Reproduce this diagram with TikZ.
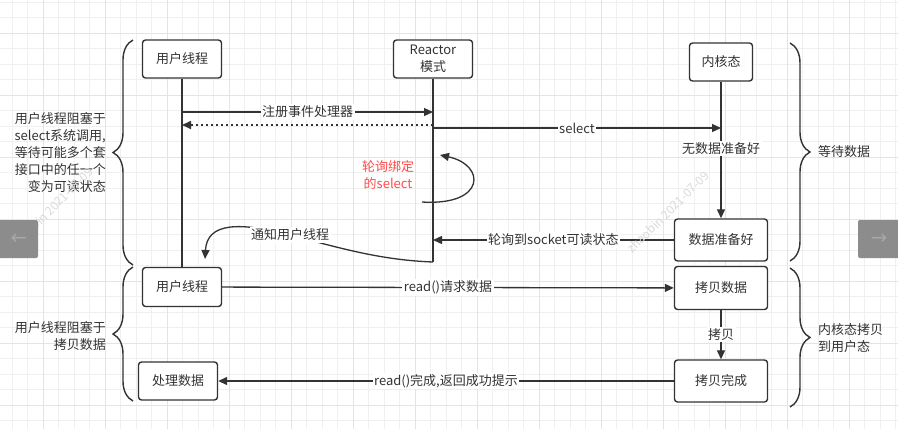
\documentclass[tikz,border=0pt]{standalone}
\usepackage{fontspec}
\setmainfont{Noto Sans CJK SC}
\newfontfamily\symfont{DejaVu Sans}
\usetikzlibrary{arrows.meta,decorations.pathreplacing}
\definecolor{ink}{HTML}{333333}
\definecolor{gridminor}{HTML}{F0F0F0}
\definecolor{gridmajor}{HTML}{E4E4E4}
\definecolor{pollred}{HTML}{FF4B4B}
\definecolor{navgray}{HTML}{8C8C8C}
\definecolor{navglyph}{HTML}{A6A6A6}
\definecolor{stamp}{HTML}{DADADA}
\tikzset{
  lane/.style={draw=ink, line width=1.4pt, rounded corners=3pt, fill=white, text=ink,
    minimum width=79pt, minimum height=38pt, inner sep=2pt, align=center,
    font=\fontsize{13}{17}\selectfont},
  kbox/.style={lane, minimum width=93pt, minimum height=42pt},
  wire/.style={draw=ink, line width=1.3pt},
  flow/.style={wire, -{Triangle[length=9pt,width=8pt]}},
  tag/.style={fill=white, text=ink, inner sep=1.5pt, font=\fontsize{13}{17}\selectfont},
  curly/.style={draw=ink, line width=1.4pt, decorate, decoration={brace, amplitude=20pt}},
  note/.style={text=ink, inner sep=0pt, font=\fontsize{13}{17}\selectfont},
}

\begin{document}
\begin{tikzpicture}[x=1pt, y=-1pt]
\useasboundingbox (0,0) rectangle (898,429);
\fill[white] (0,0) rectangle (898,429);
\foreach \gx in {0,...,57} \draw[gridminor, line width=0.8pt] ({12+15.5*\gx},0) -- ++(0,429);
\foreach \gy in {0,...,27} \draw[gridminor, line width=0.8pt] (0,{2+15.5*\gy}) -- ++(898,0);
\foreach \gx in {0,...,14} \draw[gridmajor, line width=0.9pt] ({43+62*\gx},0) -- ++(0,429);
\foreach \gy in {0,...,6} \draw[gridmajor, line width=0.9pt] (0,{33+62*\gy}) -- ++(898,0);

\node[lane] (user) at (182,59) {用户线程};
\node[lane] (reactor) at (433,59) {Reactor\\模式};
\node[lane, minimum width=63pt] (kernel) at (721,62) {内核态};
\node[kbox] (ready) at (721,240) {数据准备好};
\node[kbox, minimum height=43pt] (copy) at (721,288) {拷贝数据};
\node[kbox] (copied) at (721,381) {拷贝完成};
\node[lane, minimum height=39pt] (reader) at (182,287) {用户线程};
\node[lane] (handle) at (178,381) {处理数据};

\coordinate (reactorEnd) at (433,262);
\coordinate (loopFrom) at (422,202);
\coordinate (loopTo) at (440,155);
\coordinate (notifyTo) at (205,259);

\draw[wire] (user) -- (reader);
\draw[wire] (reactor) -- (reactorEnd);
\draw[flow] (user |- 0,112) -- node[tag] {注册事件处理器} (reactor |- 0,112);
\draw[flow, line width=1.6pt, dash pattern=on 2pt off 3pt] (reactor |- 0,125) -- (user |- 0,125);
\draw[flow] (reactor |- 0,128) -- node[tag] {select} (kernel |- 0,128);
\draw[flow] (kernel) -- node[tag, pos=0.49] {无数据准备好} (ready);
\draw[flow] (loopFrom) .. controls (486,206) and (486,165) .. (loopTo);
\node[text=pollred, align=center, font=\fontsize{13}{17}\selectfont] (pollNote) at (388,175) {轮询绑定\\的select};
\draw[flow] (ready) -- node[tag] {轮询到socket可读状态} (reactor |- ready);
\draw[flow] (reactorEnd) .. controls (380,260) and (340,248) .. (290,235)
  node[tag] (notifyNote) {通知用户线程}
  .. controls (240,222) and (207,222) .. (notifyTo);
\draw[flow] (reader) -- node[tag] {read()请求数据} (copy);
\draw[flow] (copy) -- node[tag] {拷贝} (copied);
\draw[flow] (copied) -- node[tag] {read()完成,返回成功提示} (handle);

\draw[curly] (133,265) -- (133,40);
\draw[curly] (133,401) -- (133,267);
\draw[curly] (790,43) -- (790,261);
\draw[curly] (790,268) -- (790,407);
\node[note, anchor=east, align=right] (waitSelect) at (106,153)
  {用户线程阻塞于\\select系统调用,\\等待可能多个套\\接口中的任一个\\变为可读状态};
\node[note, anchor=east, align=right] (waitCopy) at (106,336) {用户线程阻塞于\\拷贝数据};
\node[note, anchor=west, align=left] (waitData) at (818,152) {等待数据};
\node[note, anchor=west, align=left] (kernelCopy) at (818,338) {内核态拷贝\\到用户态};

\node[text=stamp, rotate=45, font=\fontsize{12}{14}\selectfont] (stampLeft) at (52,208) {zhaobin 2021-07-09};
\node[text=stamp, rotate=45, font=\fontsize{12}{14}\selectfont] (stampRight) at (668,212) {zhaobin 2021-07-09};
\fill[navgray, rounded corners=2pt] (-4,220) rectangle (38,258);
\fill[navgray, rounded corners=2pt] (858,220) rectangle (902,258);
\node[text=navglyph, font=\symfont\fontsize{20}{20}\selectfont] (navLeft) at (19,239) {←};
\node[text=navglyph, font=\symfont\fontsize{20}{20}\selectfont] (navRight) at (879,239) {→};
\end{tikzpicture}
\end{document}
